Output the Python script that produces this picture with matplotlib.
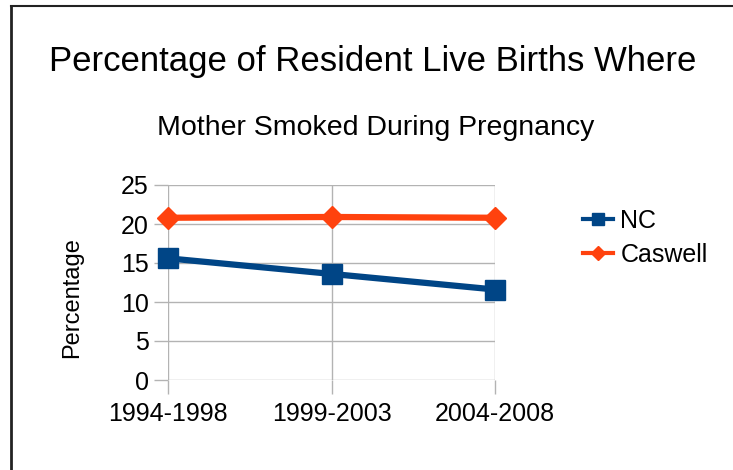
import matplotlib
matplotlib.use("Agg")
import matplotlib.pyplot as plt
from matplotlib.lines import Line2D

categories = ["1994-1998", "1999-2003", "2004-2008"]
nc_values = [15.6, 13.6, 11.6]
caswell_values = [20.8, 20.9, 20.8]
y_ticks = [0, 5, 10, 15, 20, 25]

plt.rcParams['font.family'] = ['Liberation Sans', 'DejaVu Sans']

W, H = 733, 470
fig = plt.figure(figsize=(W / 100, H / 100), dpi=100)
ax = fig.add_axes([168 / W, 1 - 380 / H, (495 - 168) / W, (380 - 185) / H])

x = list(range(len(categories)))
ax.plot(x, nc_values, color="#004586", lw=4.5, marker="s", markersize=15, label="NC",
        zorder=3)
ax.plot(x, caswell_values, color="#ff420e", lw=4.5, marker="D", markersize=11, label="Caswell",
        zorder=3)

ax.set_xlim(0, 2)
ax.set_ylim(0, 25)
ax.set_yticks(y_ticks)
ax.set_xticks(x)
ax.set_xticklabels(categories)
ax.grid(True, color="#b3b3b3", lw=1)
ax.set_axisbelow(True)
for s in ["top", "right", "bottom", "left"]:
    ax.spines[s].set_visible(False)
ax.tick_params(axis="both", length=10, width=1, color="#b3b3b3", labelsize=18)
ax.tick_params(axis="x", pad=6)
ax.tick_params(axis="y", pad=4)
for l in ax.lines:
    l.set_clip_on(False)

fig.text(72 / W, 1 - 298 / H, "Percentage", fontsize=17, rotation=90,
         ha="center", va="center")

fig.text(373 / W, 1 - 62 / H, "Percentage of Resident Live Births Where", fontsize=25,
         ha="center", va="center")
fig.text(376 / W, 1 - 128 / H, "Mother Smoked During Pregnancy", fontsize=20.5,
         ha="center", va="center")

handles = [Line2D([], [], color="#004586", lw=3, marker="s", markersize=8),
           Line2D([], [], color="#ff420e", lw=3, marker="D", markersize=7)]
leg = fig.legend(handles, ["NC", "Caswell"], loc="upper left",
                 bbox_to_anchor=(573 / W, 1 - 199 / H), frameon=False, fontsize=18,
                 handlelength=1.2, handletextpad=0.3, labelspacing=0.4, borderaxespad=0)

# border of chart area (left and top edges)
fig.add_artist(Line2D([10.5 / W, 10.5 / W], [0, 1 - 6 / H], color="#222222", lw=2,
                      transform=fig.transFigure))
fig.add_artist(Line2D([10.5 / W, 1], [1 - 6 / H, 1 - 6 / H], color="#222222", lw=1.5,
                      transform=fig.transFigure))

fig.savefig("out.png", dpi=100)
